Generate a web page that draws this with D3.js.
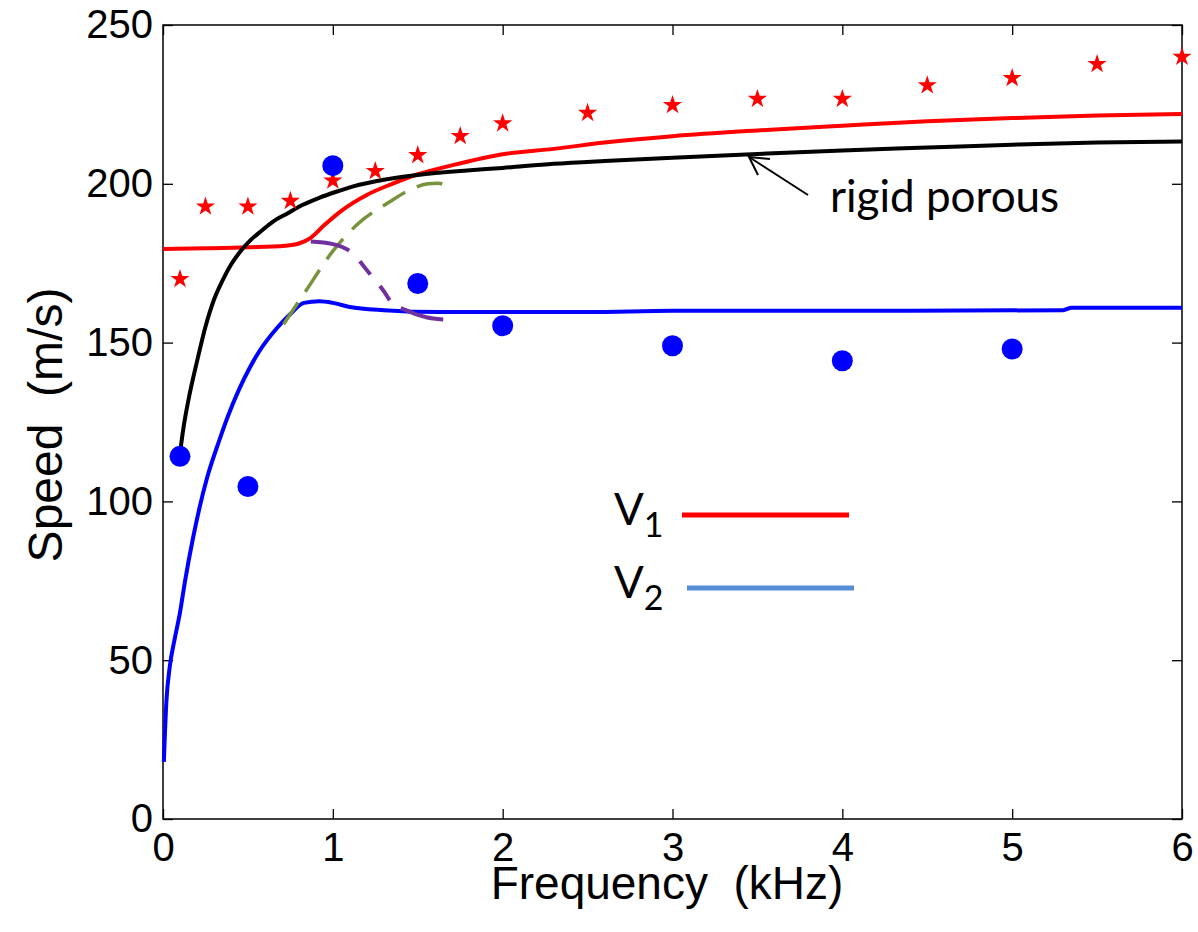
<!DOCTYPE html>
<html>
<head>
<meta charset="utf-8">
<script src="https://cdn.jsdelivr.net/npm/d3@7"></script>
<style>
  body { margin: 0; background: #fff; }
  svg { display: block; }
</style>
</head>
<body>
<script>
var svg_width = 1198;
var svg_height = 932;
var plotLeft = 163, plotRight = 1182, plotTop = 25, plotBottom = 819;

// measured points (kHz, m/s)
var starFreq  = [0.1, 0.25, 0.5, 0.75, 1.0, 1.25, 1.5, 1.75, 2.0, 2.5, 3.0, 3.5, 4.0, 4.5, 5.0, 5.5, 6.0];
var starSpeed = [170, 192.8, 192.8, 194.6, 201, 204, 209, 215, 219, 222.3, 224.8, 226.7, 226.7, 231, 233.3, 237.7, 240];

var dotFreq  = [0.1, 0.5, 1.0, 1.5, 2.0, 3.0, 4.0, 5.0];
var dotSpeed = [114.2, 104.7, 205.7, 168.6, 155.3, 149, 144.3, 148];

// model curves
var v1Freq  = [0, 0.25, 0.5, 0.72, 0.8, 0.87, 0.95, 1.05, 1.2, 1.35, 1.5, 1.7, 2.0, 2.3, 2.6, 3.0, 3.5, 4.0, 4.5, 5.0, 5.5, 6.0];
var v1Speed = [179.5, 179.7, 180, 180.5, 181.2, 183, 187, 191.5, 196.5, 200, 203, 205.8, 209.3, 211, 213, 215, 216.8, 218.3, 219.7, 220.7, 221.5, 222];

var v2Freq  = [0.005, 0.02, 0.04, 0.07, 0.1, 0.13, 0.175, 0.215, 0.26, 0.33, 0.38, 0.45, 0.51, 0.57, 0.67, 0.75, 0.83, 0.92, 1.0, 1.1, 1.3, 1.64, 2.5, 3.0, 4.0, 5.3, 5.35, 6.0];
var v2Speed = [18, 37, 48, 57, 65, 75, 88, 98, 107.5, 119, 126.5, 135.5, 142, 147.5, 154.5, 159, 162.5, 163, 162.5, 161.2, 160.2, 159.6, 159.6, 160, 160, 160.2, 161, 161];

var rigidFreq  = [0.095, 0.12, 0.15, 0.2, 0.25, 0.3, 0.35, 0.4, 0.46, 0.52, 0.58, 0.65, 0.73, 0.82, 0.92, 1.02, 1.12, 1.3, 1.5, 1.79, 2.0, 2.3, 2.6, 3.0, 3.5, 4.0, 4.5, 5.0, 5.5, 6.0];
var rigidSpeed = [113, 123, 132, 144, 155, 163.5, 169.5, 174.5, 179, 182.5, 185.2, 188.2, 190.6, 193.3, 195.6, 197.5, 199.2, 201.3, 202.8, 204.2, 205, 206.3, 207.2, 208.2, 209.4, 210.5, 211.4, 212.3, 213, 213.3];

var greenFreq  = [0.71, 0.85, 1.0, 1.15, 1.34, 1.45, 1.56, 1.62, 1.68];
var greenSpeed = [155.8, 167, 178.8, 187.5, 194.5, 198, 200, 200.2, 199];

var purpleFreq  = [0.87, 1.0, 1.1, 1.22, 1.3, 1.34, 1.44, 1.55, 1.65];
var purpleSpeed = [181.8, 181, 178.8, 171.5, 166.2, 163, 160, 158, 157.3];

var xTicks = [0, 1, 2, 3, 4, 5, 6];
var yTicks = [0, 50, 100, 150, 200, 250];

var legendNames = ['1', '2'];
var legendColors = ['#ff0000', '#558ed5'];

function pts(xs, ys) { return xs.map(function(d, i) { return [d, ys[i]]; }); }

var svg = d3.select('body').append('svg')
            .attr('width', svg_width)
            .attr('height', svg_height);

var xscale = d3.scaleLinear().domain([0, 6]).range([plotLeft, plotRight]);
var yscale = d3.scaleLinear().domain([0, 250]).range([plotBottom, plotTop]);

var line = d3.line()
    .curve(d3.curveMonotoneX)
    .x(function(d) { return xscale(d[0]); })
    .y(function(d) { return yscale(d[1]); });

var fmt = d3.format('d');

// axes, MATLAB style: ticks pointing inward on all four sides
svg.append('g')
    .attr('transform', 'translate(0,' + plotBottom + ')')
    .call(d3.axisBottom(xscale).tickValues(xTicks).tickFormat(fmt).tickSizeInner(-10).tickSizeOuter(0).tickPadding(14))
    .call(function(g) { g.select('.domain').remove(); });
svg.append('g')
    .attr('transform', 'translate(0,' + plotTop + ')')
    .call(d3.axisTop(xscale).tickValues(xTicks).tickSizeInner(-10).tickSizeOuter(0).tickFormat(''))
    .call(function(g) { g.select('.domain').remove(); });
svg.append('g')
    .attr('transform', 'translate(' + plotLeft + ',0)')
    .call(d3.axisLeft(yscale).tickValues(yTicks).tickFormat(fmt).tickSizeInner(-10).tickSizeOuter(0).tickPadding(10))
    .call(function(g) { g.select('.domain').remove(); });
svg.append('g')
    .attr('transform', 'translate(' + plotRight + ',0)')
    .call(d3.axisRight(yscale).tickValues(yTicks).tickSizeInner(-10).tickSizeOuter(0).tickFormat(''))
    .call(function(g) { g.select('.domain').remove(); });

svg.selectAll('.tick line').attr('stroke', '#000').attr('stroke-width', 1.3);
svg.selectAll('.tick text')
    .attr('font-family', '"Liberation Sans", Arial, sans-serif')
    .attr('font-size', 40)
    .attr('fill', '#000');

svg.append('rect')
    .attr('x', plotLeft).attr('y', plotTop)
    .attr('width', plotRight - plotLeft).attr('height', plotBottom - plotTop)
    .attr('fill', 'none').attr('stroke', '#000').attr('stroke-width', 1.5);

// curves
svg.append('path').datum(pts(v2Freq, v2Speed))
    .attr('d', line).attr('fill', 'none').attr('stroke', '#0000ff').attr('stroke-width', 4);
svg.append('path').datum(pts(v1Freq, v1Speed))
    .attr('d', line).attr('fill', 'none').attr('stroke', '#ff0000').attr('stroke-width', 4);
svg.append('path').datum(pts(rigidFreq, rigidSpeed))
    .attr('d', line).attr('fill', 'none').attr('stroke', '#000').attr('stroke-width', 4);
svg.append('path').datum(pts(greenFreq, greenSpeed))
    .attr('d', line).attr('fill', 'none').attr('stroke', '#77933c').attr('stroke-width', 3.5)
    .attr('stroke-dasharray', '26,13');
svg.append('path').datum(pts(purpleFreq, purpleSpeed))
    .attr('d', line).attr('fill', 'none').attr('stroke', '#7030a0').attr('stroke-width', 4)
    .attr('stroke-dasharray', '40,15,17,15,17,14,50');

// markers
svg.selectAll('.star').data(pts(starFreq, starSpeed)).enter().append('path')
    .attr('class', 'star')
    .attr('transform', function(d) { return 'translate(' + xscale(d[0]) + ',' + yscale(d[1]) + ')'; })
    .attr('d', d3.symbol().type(d3.symbolStar).size(115))
    .attr('fill', '#ff0000');
svg.selectAll('.dot').data(pts(dotFreq, dotSpeed)).enter().append('circle')
    .attr('class', 'dot')
    .attr('cx', function(d) { return xscale(d[0]); })
    .attr('cy', function(d) { return yscale(d[1]); })
    .attr('r', 10.5)
    .attr('fill', '#0000ff');

// annotation
svg.append('line')
    .attr('x1', 808).attr('y1', 195).attr('x2', 749).attr('y2', 157)
    .attr('stroke', '#000').attr('stroke-width', 2);
svg.append('path')
    .attr('d', 'M770,159 L749,157 L758,175')
    .attr('fill', 'none').attr('stroke', '#000').attr('stroke-width', 2);
svg.append('text')
    .attr('x', 830).attr('y', 212)
    .attr('font-family', 'Lato, sans-serif').attr('font-size', 44)
    .text('rigid porous');

// legend
var leg = svg.selectAll('.leg').data(legendNames).enter().append('g')
    .attr('class', 'leg')
    .attr('transform', function(d, i) { return 'translate(0,' + (i * 73) + ')'; });
leg.append('text')
    .attr('x', 614).attr('y', 525)
    .attr('font-family', 'Lato, sans-serif').attr('font-size', 44)
    .text('V')
    .append('tspan')
    .attr('dy', 12).attr('font-size', 34)
    .text(function(d) { return d; });
leg.append('line')
    .attr('x1', function(d, i) { return 682 + i * 5; })
    .attr('x2', function(d, i) { return 849 + i * 5; })
    .attr('y1', 515).attr('y2', 515)
    .attr('stroke', function(d, i) { return legendColors[i]; })
    .attr('stroke-width', 5);

// axis titles
svg.append('text')
    .attr('x', 667).attr('y', 899)
    .attr('text-anchor', 'middle')
    .attr('font-family', '"Liberation Sans", Arial, sans-serif').attr('font-size', 46)
    .attr('xml:space', 'preserve')
    .text('Frequency  (kHz)');
svg.append('text')
    .attr('transform', 'translate(62,425) rotate(-90)')
    .attr('text-anchor', 'middle')
    .attr('font-family', '"Liberation Sans", Arial, sans-serif').attr('font-size', 48)
    .attr('xml:space', 'preserve')
    .text('Speed  (m/s)');
</script>
</body>
</html>
